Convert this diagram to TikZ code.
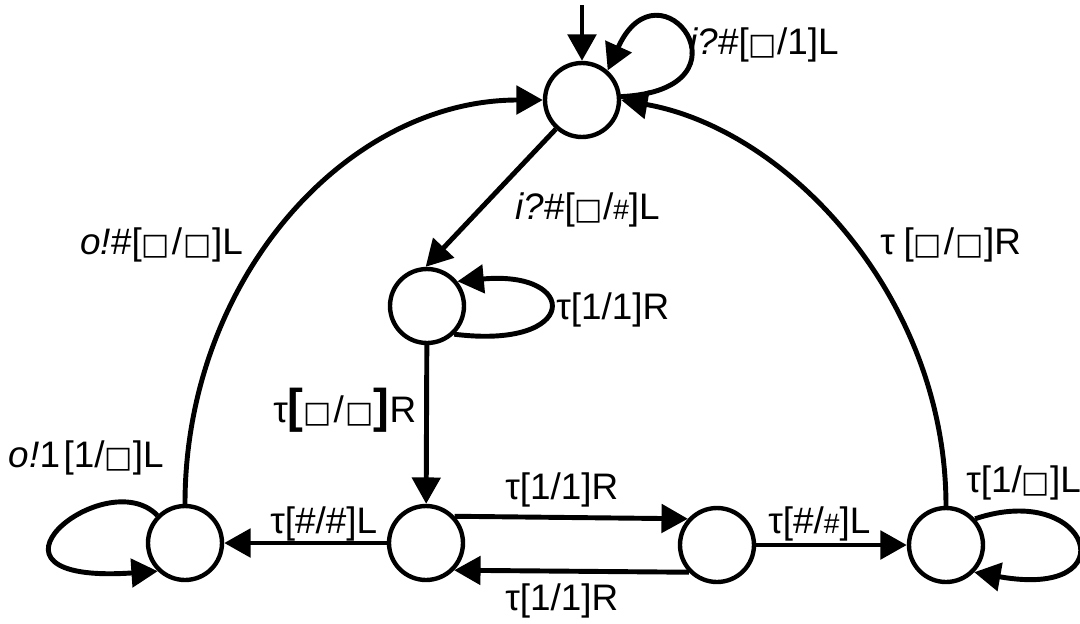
\documentclass[tikz,border=0pt]{standalone}
\usepackage{fontspec}
\setmainfont{Liberation Sans}
\newfontfamily\symfont{DejaVu Sans}
\usetikzlibrary{arrows.meta}
\newcommand{\blank}{{\symfont\fontsize{17}{17}\selectfont □}}
\newcommand{\smallhash}{{\fontsize{16}{16}\selectfont\#}}
\newcommand{\wslash}{\kern1pt/\kern1pt}
\begin{document}
\begin{tikzpicture}[x=0.02cm,y=-0.02cm,
  state/.style={circle,draw,line width=2.5pt,minimum size=1.48cm,inner sep=0pt},
  edge/.style={line width=2.8pt,-{Triangle[length=15pt,width=16pt]}},
  lab/.style={font=\fontsize{21}{24}\selectfont,inner sep=0pt,anchor=west}]
\useasboundingbox (0,0) rectangle (1080,623);

% states
\node[state] (q0) at (582,100) {};
\node[state] (q1) at (427,306) {};
\node[state] (q2) at (426,543) {};
\node[state] (q3) at (717,545) {};
\node[state] (q4) at (946,545) {};
\node[state] (q5) at (185,543) {};
\coordinate (init) at (582,5);

% initial arrow
\draw[edge] (init) -- (q0);

% self loops
\draw[edge] (q0.5) .. controls (760,90) and (660,-45) .. (q0.49);
\draw[edge] (q1.-46) .. controls (580,350) and (580,270) .. (q1.39);
\draw[edge] (q5.135) .. controls (105,462) and (-45,585) .. (q5.-134);
\draw[edge] (q4.42) .. controls (1090,480) and (1130,600) .. (q4.-44);

% transitions
\draw[edge] (q0.-132) -- (q1.92);
\draw[edge] (q1) -- (q2);
\draw[edge] (q2.43) -- (q3.138);
\draw[edge] (q3.-136) -- (q2.-44);
\draw[edge] (q2) -- (q5);
\draw[edge] (q3) -- (q4);
\draw[edge] (q5.north) .. controls (185,280) and (346,100) .. (q0.west);
\draw[edge] (q4.north) .. controls (946,300) and (790,130) .. (q0.east);

% labels
\node[lab] (l1) at (689,45) {\textit{i?}\#[\blank/1]L};
\node[lab] (l2) at (515,210) {\textit{i?}\#[\blank/\smallhash]L};
\node[lab] (l3) at (80,245) {\textit{o!}\#[\blank\wslash\blank]L};
\node[lab] (l4) at (880,245) {τ\kern5pt[\blank\wslash\blank]R};
\node[lab] (l5) at (556,310) {τ[1/1]R};
\node[lab] (l6) at (273,410) {τ{\fontsize{27}{27}\selectfont\bfseries[}\blank\wslash\blank{\fontsize{27}{27}\selectfont\bfseries]}R};
\node[lab,anchor=east] (l7) at (164,458) {\textit{o!}1\kern2pt[1/\blank]L};
\node[lab] (l8) at (505,490) {τ[1/1]R};
\node[lab] (l9) at (270,524) {τ[\#/\#]L};
\node[lab] (l10) at (768,524) {τ[\#/\smallhash]L};
\node[lab] (l11) at (966,483) {τ[1/\blank]L};
\node[lab] (l12) at (505,601) {τ[1/1]R};
\end{tikzpicture}
\end{document}
